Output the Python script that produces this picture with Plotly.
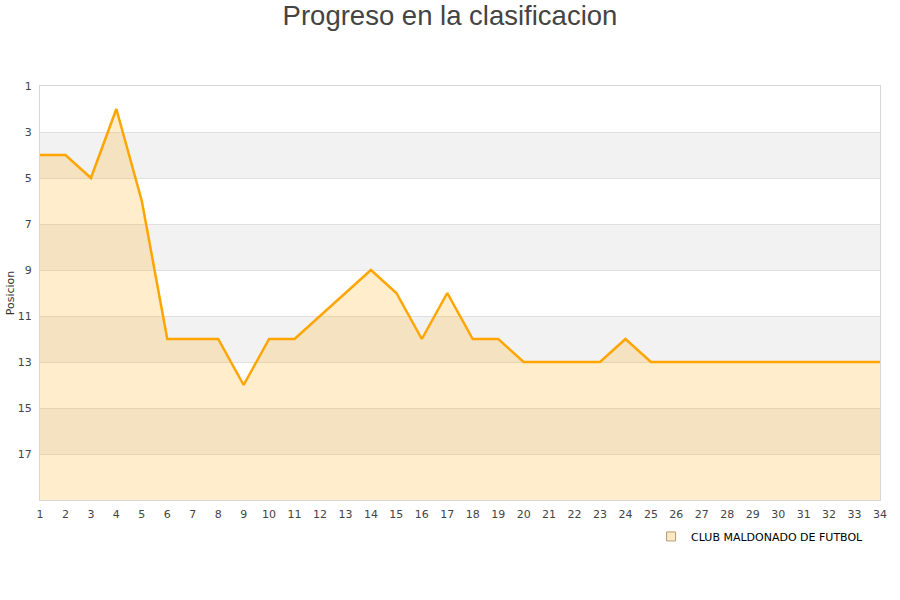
import plotly.graph_objects as go

jornadas = list(range(1, 35))
posiciones = [4, 4, 5, 2, 6, 12, 12, 12, 14, 12, 12, 11, 10, 9, 10, 12, 10, 12, 12, 13,
              13, 13, 13, 12, 13, 13, 13, 13, 13, 13, 13, 13, 13, 13]
equipo = "CLUB MALDONADO DE FUTBOL"
y_ticks = [1, 3, 5, 7, 9, 11, 13, 15, 17]
y_min, y_max = 1, 19

fig = go.Figure()
fig.add_trace(go.Scatter(x=jornadas, y=[y_max] * len(jornadas), mode="lines",
                         line=dict(width=0), showlegend=False, hoverinfo="skip"))
fig.add_trace(go.Scatter(x=jornadas, y=posiciones, mode="lines", name=equipo,
                         line=dict(color="#ffa500", width=2.5), showlegend=False,
                         fill="tonexty", fillcolor="rgba(255,165,0,0.2)"))
fig.add_trace(go.Scatter(x=[None], y=[None], mode="markers", name=equipo,
                         marker=dict(symbol="square", size=9, color="#fde9c4",
                                     line=dict(color="#b89a6a", width=1))))

shapes = []
for i, lo in enumerate(range(y_min, y_max, 2)):
    if i % 2 == 1:
        shapes.append(dict(type="rect", xref="paper", yref="y", x0=0, x1=1, y0=lo, y1=lo + 2,
                           fillcolor="#f2f2f2", line=dict(width=0), layer="below"))

fig.update_layout(
    width=900, height=600,
    paper_bgcolor="white", plot_bgcolor="white",
    font=dict(family="DejaVu Sans", size=11, color="#444"),
    title=dict(text="Progreso en la clasificacion", x=0.5, xanchor="center", y=0.974, yanchor="middle",
               font=dict(family="Liberation Sans, Arial", size=27.5, color="#444")),
    margin=dict(l=40, r=20, t=86, b=100),
    shapes=shapes,
    showlegend=True,
    legend=dict(orientation="h", x=0.987, xanchor="right", y=-0.053, yanchor="top",
                font=dict(size=11, color="#000"), bgcolor="rgba(0,0,0,0)"),
    xaxis=dict(range=[1, 34], tickmode="array", tickvals=jornadas, showgrid=False,
               showline=True, linecolor="#d8d8d8", mirror=True, zeroline=False, automargin=False,
               ticks="outside", ticklen=4, tickcolor="rgba(0,0,0,0)",
               tickfont=dict(size=11, color="#444")),
    yaxis=dict(range=[y_max, y_min], tickmode="array", tickvals=y_ticks, showgrid=True,
               gridcolor="#e0e0e0", showline=True, linecolor="#d8d8d8", mirror=True, automargin=False,
               zeroline=False, ticks="outside", ticklen=5, tickcolor="rgba(0,0,0,0)",
               tickfont=dict(size=11, color="#444"),
               title=dict(text="Posicion", font=dict(size=11, color="#333"), standoff=0)),
)

fig.write_html("out.html", post_script="document.body.style.margin='0';",
               config={"displayModeBar": False})
